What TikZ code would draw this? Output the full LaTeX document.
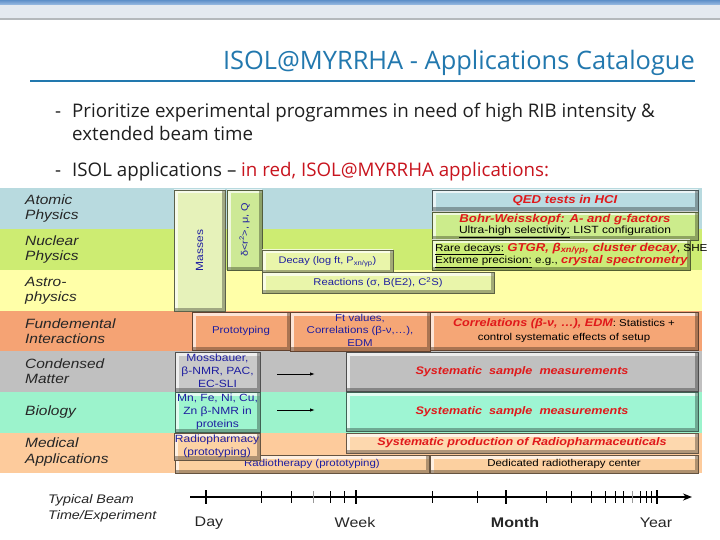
\documentclass[tikz,border=0pt]{standalone}
\usepackage{fontspec}
\setmainfont{Liberation Sans}
\newfontfamily\hdfont{Open Sans}
\newfontfamily\tabfont[FakeStretch=1.15]{Liberation Sans}
\usetikzlibrary{arrows.meta,calc}
\definecolor{titleblue}{HTML}{2278AE}
\definecolor{txtblue}{HTML}{1E1EA0}
\definecolor{txtred}{HTML}{E0191B}
\definecolor{bulred}{HTML}{C8141E}
\definecolor{bAtom}{HTML}{B8DADF}
\definecolor{bNuc}{HTML}{CDEC72}
\definecolor{bAstro}{HTML}{FFFFA8}
\definecolor{bFund}{HTML}{F5A374}
\definecolor{bCond}{HTML}{C0C0C0}
\definecolor{bBio}{HTML}{9CF3CC}
\definecolor{bMed}{HTML}{FDCB9C}
\definecolor{hdTop}{HTML}{5E8FC8}
\definecolor{hdBot}{HTML}{9EBDE4}
\definecolor{hdBand}{HTML}{E4E9F0}
\definecolor{hdLine}{HTML}{B4B8BC}
\definecolor{cMass}{HTML}{E6F2BA}
\definecolor{cRad}{HTML}{CDE996}
\definecolor{cDecay}{HTML}{E9F5AA}
\definecolor{cQed}{HTML}{B9DCE2}
\definecolor{cBohr}{HTML}{CCEC8C}
\definecolor{cRare}{HTML}{CCEC78}
\definecolor{cFund}{HTML}{F5A676}
\definecolor{cMoss}{HTML}{C9C9C9}
\definecolor{cCond}{HTML}{C0C0C0}
\definecolor{cMn}{HTML}{9EF5CF}
\definecolor{cBio}{HTML}{9EF5D3}
\definecolor{cRph}{HTML}{FCD2A4}
\definecolor{cSpr}{HTML}{FDD8AE}
\definecolor{cRth}{HTML}{FCD0A0}
\tikzset{
  bev/.style={rectangle, inner sep=1pt, outer sep=0pt, fill=#1, draw=#1!40!black, line width=0.6bp,
    path picture={
      \path (path picture bounding box.north west) coordinate (bnw)
            (path picture bounding box.south east) coordinate (bse);
      \draw[white, opacity=0.7, line width=7bp] (bnw |- bse) -- (bnw) -- (bnw -| bse);
      \draw[#1!45!black, opacity=0.55, line width=7bp] (bnw |- bse) -- (bse) -- (bnw -| bse);
    }},
  rowlab/.style={anchor=west, align=left, inner sep=0pt, text=black!85,
    font=\tabfont\fontsize{13.5}{15.5}\selectfont\itshape},
  tick/.style={line width=1bp},
  majtick/.style={line width=2.2bp},
  tlab/.style={font=\tabfont\fontsize{14}{16}\selectfont, text=black!85},
}
\newcommand\bx[8][]{%
  \node[bev=#7, anchor=north west, minimum width={#4bp-#2bp}, minimum height={#5bp-#3bp}, font=\tabfont, #1] (#6) at (#2,#3) {#8};}
\newcommand\rd[1]{{\color{txtred}\bfseries\itshape #1}}
\newcommand\fs[1]{\fontsize{#1}{#1}\selectfont}
\begin{document}
\begin{tikzpicture}[x=1bp,y=-1bp]
\useasboundingbox (0,0) rectangle (720,540);
\fill[white] (0,0) rectangle (720,540);
% header bar
\shade[top color=hdTop, bottom color=hdBot] (0,0) rectangle (720,5);
\fill[hdBand] (0,5) rectangle (720,18);
\fill[hdLine] (0,18) rectangle (720,20);
% title
\node[anchor=base east, inner sep=0pt, text=titleblue, font=\hdfont\fontsize{25.5}{28}\selectfont] (title) at (695,70) {ISOL@MYRRHA - Applications Catalogue};
\draw[titleblue, line width=2bp] (30,81) -- (695,81);
% bullets
\begin{scope}[every node/.style={anchor=base west, inner sep=0pt, text=black!88, font=\hdfont\fontsize{18.8}{22}\selectfont}]
\node (d1) at (55,118) {-};
\node (b1) at (72,118) {Prioritize experimental programmes in need of high RIB intensity \&};
\node (b1b) at (72,141) {extended beam time};
\node (d2) at (55,177) {-};
\node (b2) at (72,177) {ISOL applications – {\color{bulred}in red, ISOL@MYRRHA applications:}};
\end{scope}
% row bands
\fill[bAtom]  (0,188) rectangle (702,229);
\fill[bNuc]   (0,229) rectangle (702,270);
\fill[bAstro] (0,270) rectangle (702,311);
\fill[bFund]  (0,311) rectangle (702,351);
\fill[bCond]  (0,351) rectangle (702,392);
\fill[bBio]   (0,392) rectangle (702,433);
\fill[bMed]   (0,433) rectangle (702,473);
% row labels
\node[rowlab] (latom) at (25,208.5) {Atomic\\Physics};
\node[rowlab] (lnuc)  at (25,249.5) {Nuclear\\Physics};
\node[rowlab] (lastr) at (25,291) {Astro-\\physics};
\node[rowlab] (lfund) at (25,331) {Fundemental\\Interactions};
\node[rowlab] (lcond) at (25,371) {Condensed\\Matter};
\node[rowlab] (lbio)  at (25,412) {Biology};
\node[rowlab] (lmed)  at (25,452) {Medical\\Applications};
% atomic / nuclear / astro boxes
\bx{174}{190}{225}{311}{masses}{cMass}{\textcolor{txtblue}{\fs{10.5}\rotatebox{90}{Masses}}}
\bx{227}{190}{262}{270}{radius}{cRad}{\textcolor{txtblue}{\fs{9.5}\rotatebox{90}{δ<r\textsuperscript{2}>, μ, Q}}}
\bx{262}{250}{393}{273}{decay}{cDecay}{\textcolor{txtblue}{\fs{9.6}Decay (log ft, P\textsubscript{xn/γp})}}
\bx{262}{272}{494}{293}{react}{cDecay}{\textcolor{txtblue}{\fs{9.8}Reactions (σ, B(E2), C\textsuperscript{2}S)}}
\bx{432}{190}{698}{211}{qed}{cQed}{\rd{\fs{11.5}QED tests in HCI}}
\bx{432}{212}{698}{240}{bohr}{cBohr}{\begin{tabular}{@{}c@{}}\rd{\fs{11.5}Bohr-Weisskopf: A- and g-factors}\\[-1pt]
  \fs{10.5}\underline{Ultra-high selectivity:} LIST configuration\end{tabular}}
\bx{432}{240}{690}{270}{rare}{cRare}{}
\node[anchor=north west, inner sep=0pt, align=left, font=\tabfont\fontsize{10.2}{13}\selectfont] (raret) at (435,242.5)
  {\underline{Rare decays:} \rd{\fs{11.5}GTGR, β\textsubscript{xn/γp}, cluster decay}, SHE\\
   \underline{Extreme precision:} e.g., \rd{\fs{11.2}crystal spectrometry}};
% fundamental
\bx{192}{312}{290}{350}{proto}{cFund}{\textcolor{txtblue}{\fs{10}Prototyping}}
\bx{290}{312}{430}{350}{ftv}{cFund}{\begin{tabular}{@{}c@{}}\color{txtblue}\fs{10}Ft values,\\[0.5pt]\color{txtblue}\fs{10}Correlations (β-ν,…),\\[0.5pt]\color{txtblue}\fs{10}EDM\end{tabular}}
\bx{430}{312}{698}{350}{corr}{cFund}{\begin{tabular}{@{}c@{}}\fs{10}\rd{\fs{11}Correlations (β-ν, …), EDM}: Statistics +\\[2pt]\fs{10}control systematic effects of setup\end{tabular}}
% condensed
\bx{175}{352}{260}{390}{moss}{cMoss}{\begin{tabular}{@{}c@{}}\color{txtblue}\fs{10.5}Mossbauer,\\[1pt]\color{txtblue}\fs{10.5}β-NMR, PAC,\\[1pt]\color{txtblue}\fs{10.5}EC-SLI\end{tabular}}
\bx{346}{352}{698}{391}{ssm1}{cCond}{\rd{\fs{11}Systematic\ \ sample\ \ measurements}}
\coordinate (a1s) at (277,374);
\coordinate (a1e) at (315,374);
\draw[line width=0.9bp, -{Latex[length=5bp,width=3.5bp]}] (a1s) -- (a1e);
% biology
\bx{175}{392}{260}{432}{mnfe}{cMn}{\begin{tabular}{@{}c@{}}\color{txtblue}\fs{10.5}Mn, Fe, Ni, Cu,\\[1pt]\color{txtblue}\fs{10.5}Zn β-NMR in\\[1pt]\color{txtblue}\fs{10.5}proteins\end{tabular}}
\bx{346}{392}{698}{431}{ssm2}{cBio}{\rd{\fs{11}Systematic\ \ sample\ \ measurements}}
\coordinate (a2s) at (277,410);
\coordinate (a2e) at (315,410);
\draw[line width=0.9bp, -{Latex[length=5bp,width=3.5bp]}] (a2s) -- (a2e);
% medical
\bx{175}{455}{429}{473}{rther}{cRth}{\hspace*{20bp}\textcolor{txtblue}{\fs{10}Radiotherapy (prototyping)}}
\bx{174}{433}{260}{458}{rpharm}{cRph}{\begin{tabular}{@{}c@{}}\color{txtblue}\fs{10.5}Radiopharmacy\\[1pt]\color{txtblue}\fs{10.5}(prototyping)\end{tabular}}
\bx{346}{433}{698}{453}{sprod}{cSpr}{\rd{\fs{11}Systematic\ production\ of\ Radiopharmaceuticals}}
\bx{430}{455}{698}{473}{dedic}{cRth}{\fs{10}Dedicated radiotherapy center}
% timeline
\node[anchor=west, align=left, inner sep=0pt, font=\tabfont\fontsize{12.5}{16}\selectfont\itshape, text=black!85] (tbl) at (48,508) {Typical Beam\\Time/Experiment};
\coordinate (tl0) at (190,497);
\coordinate (tl1) at (692,497);
\draw[line width=2.6bp, -{Stealth[length=9bp,width=7bp]}] (tl0) -- (tl1);
\foreach \t in {261,291,330,344,432,477,546,571,591,605,615,623,640,646,651}
  \draw[tick] (\t,491) -- (\t,503);
\foreach \t in {313,632}
  \draw[tick, black!40] (\t,491) -- (\t,503);
\foreach \t in {206,356,506,657}
  \draw[majtick] (\t,490) -- (\t,504);
\node[tlab] (day) at (209,523) {Day};
\node[tlab] (week) at (355,523) {Week};
\node[tlab, font=\tabfont\fontsize{14}{16}\selectfont\bfseries] (month) at (515,523) {Month};
\node[tlab] (year) at (656,523) {Year};
\end{tikzpicture}
\end{document}
